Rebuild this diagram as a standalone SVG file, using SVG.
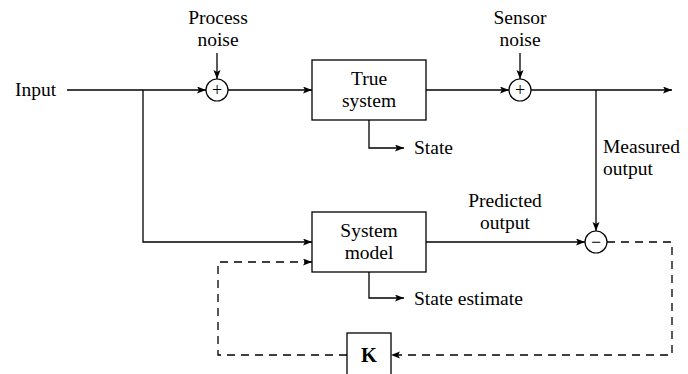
<svg xmlns="http://www.w3.org/2000/svg" width="688" height="374" viewBox="0 0 688 374">
<defs>
<marker id="arr" markerUnits="userSpaceOnUse" markerWidth="10" markerHeight="8" refX="9" refY="3.5" orient="auto">
<path d="M0,0 L9,3.5 L0,7 L2,3.5 z" fill="#000"/>
</marker>
<style>
text{font-family:"Liberation Serif","Times New Roman",serif;font-size:19.5px;fill:#000}
.m{text-anchor:middle}
.b{font-weight:bold;font-size:20.5px}
.sym{font-size:18px;text-anchor:middle}
.box{fill:#fff;stroke:#000;stroke-width:1.3}
.c{fill:#fff;stroke:#000;stroke-width:1.2}
.ln{fill:none;stroke:#000;stroke-width:1.3}
.ar{marker-end:url(#arr)}
.d{stroke-dasharray:8 6}
</style>
</defs>
<rect width="688" height="374" fill="#fff"/>
<g id="connectors">
<path class="ln ar" d="M67,90 H206"/>
<path class="ln ar" d="M217,53 V79"/>
<path class="ln ar" d="M228,90 H312"/>
<path class="ln ar" d="M426,90 H509"/>
<path class="ln ar" d="M520,53 V79"/>
<path class="ln ar" d="M531,90 H672"/>
<path class="ln ar" d="M596,90 V231"/>
<path class="ln ar" d="M143,90 V242 H312"/>
<path class="ln ar" d="M426,242 H585"/>
<path class="ln ar" d="M369,120 V148 H404"/>
<path class="ln ar" d="M369,272 V298 H404"/>
<path class="ln ar d" d="M607,242 H672 V355 H391"/>
<path class="ln ar d" d="M347,355 H218 V262 H312"/>
</g>
<g id="input"><text x="15" y="96">Input</text></g>
<g id="process-noise"><text class="m" x="218" y="24">Process</text><text class="m" x="218" y="46">noise</text></g>
<g id="sum1"><circle class="c" cx="217" cy="90" r="11"/><text class="sym" x="217" y="96">+</text></g>
<g id="true-system"><rect class="box" x="312" y="60" width="114" height="60"/><text class="m" x="369" y="85">True</text><text class="m" x="369" y="107">system</text></g>
<g id="state"><text x="414" y="154">State</text></g>
<g id="sensor-noise"><text class="m" x="520" y="24">Sensor</text><text class="m" x="520" y="46">noise</text></g>
<g id="sum2"><circle class="c" cx="520" cy="90" r="11"/><text class="sym" x="520" y="96">+</text></g>
<g id="measured-output"><text x="603" y="153">Measured</text><text x="603" y="175">output</text></g>
<g id="system-model"><rect class="box" x="312" y="212" width="114" height="60"/><text class="m" x="369" y="237">System</text><text class="m" x="369" y="259">model</text></g>
<g id="predicted-output"><text class="m" x="505" y="207">Predicted</text><text class="m" x="505" y="229">output</text></g>
<g id="diff"><circle class="c" cx="596" cy="242" r="11"/><text class="sym" x="596" y="248">−</text></g>
<g id="state-estimate"><text x="414" y="305">State estimate</text></g>
<g id="gain-k"><rect class="box" x="347" y="333" width="44" height="50"/><text class="m b" x="369" y="362">K</text></g>
</svg>
